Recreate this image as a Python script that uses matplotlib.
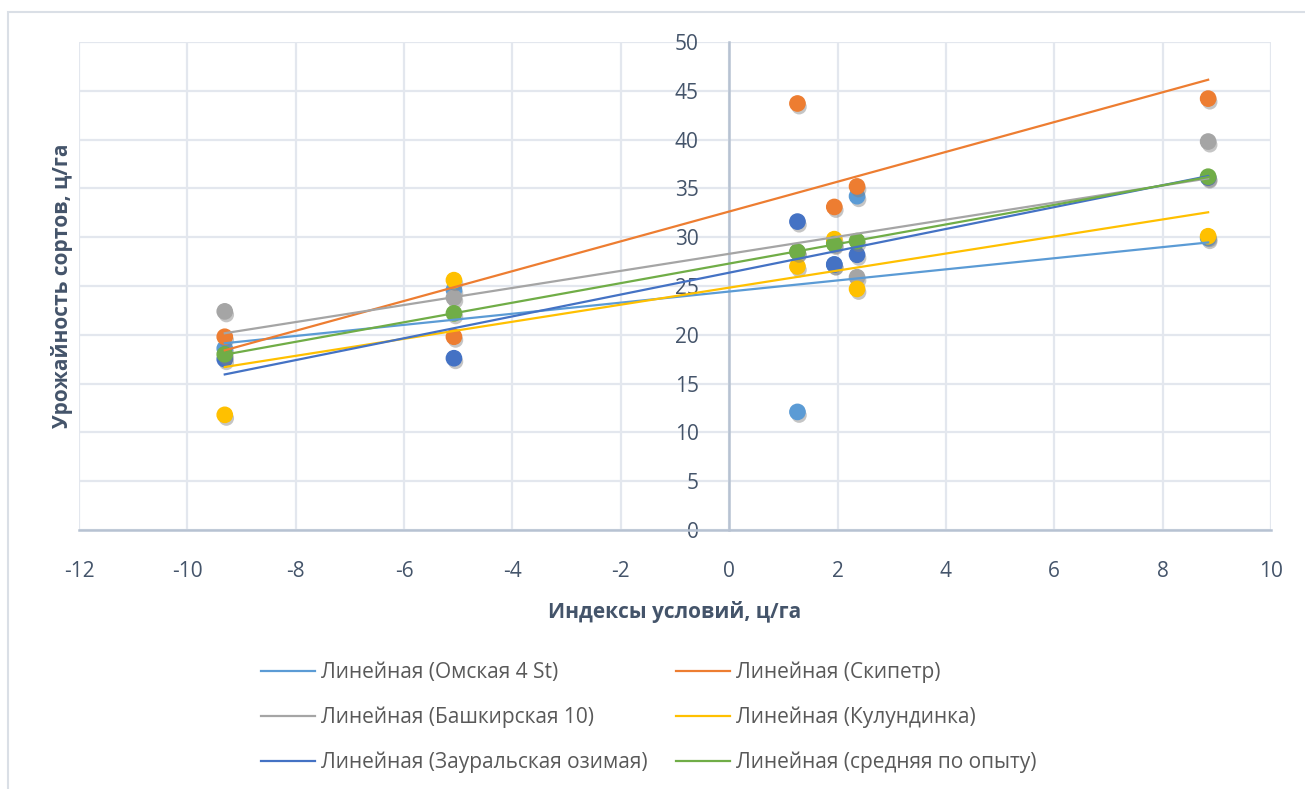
import numpy as np
import matplotlib.pyplot as plt
import matplotlib.patheffects as pe
from matplotlib.patches import Rectangle

plt.rcParams['font.family'] = ['Open Sans', 'DejaVu Sans']
plt.rcParams['axes.unicode_minus'] = False

# индексы условий по годам/пунктам
idx = [-9.31, -5.08, 1.26, 1.94, 2.36, 8.84]

omsk = [18.6, 24.6, 12.1, 27.2, 34.2, 29.9]
skipetr = [19.8, 19.8, 43.7, 33.1, 35.2, 44.2]
bashkir = [22.4, 23.8, 28.5, 29.4, 25.9, 39.8]
kulund = [11.8, 25.6, 27.0, 29.8, 24.7, 30.1]
zaural = [17.5, 17.6, 31.6, 27.2, 28.2, 36.1]
mean_all = [18.0, 22.2, 28.5, 29.3, 29.6, 36.2]

names = ["Омская 4 St", "Скипетр", "Башкирская 10", "Кулундинка",
         "Зауральская озимая", "средняя по опыту"]
series = [omsk, skipetr, bashkir, kulund, zaural, mean_all]
colors = ["#5B9BD5", "#ED7D31", "#A5A5A5", "#FFC000", "#4472C4", "#70AD47"]

txt = "#44546A"
grid_c = "#E3E7EE"
axis_c = "#B7C2D2"

fig = plt.figure(figsize=(13.05, 7.89), dpi=100)
ax = fig.add_axes([79/1305, 1-530/789, (1271-79)/1305, (530-42)/789])

# рамка диаграммы
fig.patches.append(Rectangle((8/1305, -0.1), 1.2, 1-12/789+0.1,
                             transform=fig.transFigure, fill=False,
                             ec="#DADFE6", lw=1.5))

x = np.array(idx)
shadow = [pe.SimplePatchShadow(offset=(1.2, -2.4), shadow_rgbFace="#808080", alpha=0.45),
          pe.Normal()]
for ys, c in zip(series, colors):
    ax.plot(x, ys, "o", color=c, ms=11, mec=c, zorder=3, path_effects=shadow)

# линейные тренды по каждому сорту
trend = []
xx = np.array([x.min(), x.max()])
for ys, c, n in zip(series, colors, names):
    k, b = np.polyfit(x, ys, 1)
    h, = ax.plot(xx, k*xx + b, "-", color=c, lw=1.6, zorder=4,
                 label="Линейная (%s)" % n)
    trend.append(h)

ax.set_xlim(-12, 10)
ax.set_ylim(0, 50)
ax.set_xticks(np.arange(-12, 11, 2))
ax.set_yticks(np.arange(0, 51, 5))
ax.grid(True, color=grid_c, lw=1.6, zorder=0)
ax.set_axisbelow(True)

for s in ["top", "right"]:
    ax.spines[s].set_visible(False)
ax.spines["left"].set_position(("data", 0))
ax.spines["left"].set_color(axis_c)
ax.spines["left"].set_linewidth(1.8)
ax.spines["bottom"].set_color(axis_c)
ax.spines["bottom"].set_linewidth(1.8)
ax.spines["left"].set_zorder(1)
ax.tick_params(length=0, labelsize=15, labelcolor=txt)
ax.tick_params(axis="y", pad=22)
ax.tick_params(axis="x", pad=22)

ax.set_xlabel("Индексы условий, ц/га", fontsize=15, fontweight="bold",
              color=txt, labelpad=14)
fig.text(62/1305, 1-286/789, "Урожайность сортов, ц/га", rotation=90,
         fontsize=15, fontweight="bold", color=txt, ha="center", va="center")

order = [0, 2, 4, 1, 3, 5]
leg = fig.legend([trend[i] for i in order], [trend[i].get_label() for i in order],
                 ncol=2, loc="upper left", bbox_to_anchor=(242/1305, 1-643/789),
                 frameon=False, fontsize=15, handlelength=2.6, handletextpad=0.3,
                 columnspacing=1.35, labelspacing=1.12, labelcolor="#595959")

fig.savefig("out.png", dpi=100)
